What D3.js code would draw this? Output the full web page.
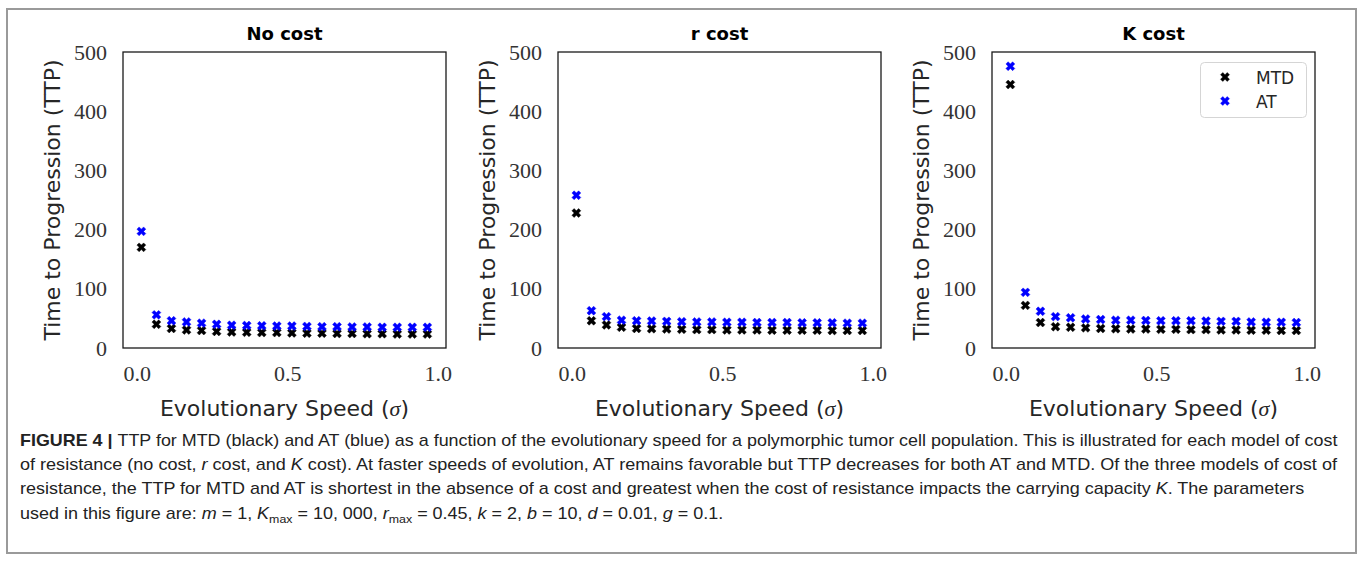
<!DOCTYPE html>
<html>
<head>
<meta charset="utf-8">
<script src="https://cdn.jsdelivr.net/npm/d3@7"></script>
<style>
  html, body { margin: 0; padding: 0; background: #fff; }
  svg { display: block; }
</style>
</head>
<body>
<div id="chart"></div>
<script>
(function() {
  'use strict';

  // evolutionary speed (sigma) at which TTP was computed
  const sigma = [0.015, 0.065, 0.115, 0.165, 0.215, 0.265, 0.315, 0.365, 0.415, 0.465,
                 0.515, 0.565, 0.615, 0.665, 0.715, 0.765, 0.815, 0.865, 0.915, 0.965];

  const panelTitles = ['No cost', 'r cost', 'K cost'];
  const seriesNames = ['MTD', 'AT'];
  const seriesColors = ['#000000', '#0000ff'];

  // No cost
  const mtdNoCost = [170, 40, 33, 30.5, 29.5, 28, 27, 26.5, 26, 26, 25.5, 25, 25, 24.5, 24.5, 24, 24, 23.5, 23.5, 23.5];
  const atNoCost  = [197, 56, 46, 44, 42, 40, 38.5, 38, 37.5, 37, 37, 36.5, 36, 36, 35.5, 35.5, 35, 35, 35, 35];
  // r cost
  const mtdRCost = [228, 46, 39, 35, 33, 32.5, 32, 31.5, 31, 31, 30.5, 30.5, 30.5, 30, 30, 30, 30, 29.5, 29.5, 29.5];
  const atRCost  = [258, 63, 53, 47, 46, 45.5, 45, 44.5, 44, 44, 43.5, 43.5, 43, 43, 43, 42.5, 42.5, 42.5, 42, 42];
  // K cost
  const mtdKCost = [445, 72, 43, 36, 35, 34, 33, 32.5, 32, 32, 31.5, 31.5, 31, 31, 30.5, 30.5, 30, 30, 29.5, 29.5];
  const atKCost  = [476, 94, 62, 53, 51, 49, 48, 47, 47, 46.5, 46, 46, 46, 45.5, 45, 45, 44, 43.5, 43.5, 43];

  const xTicks = [0, 0.5, 1.0];
  const yTicks = [0, 100, 200, 300, 400, 500];

  const captionLines = [
    [{ t: 'FIGURE 4 | ', b: true }, { t: 'TTP for MTD (black) and AT (blue) as a function of the evolutionary speed for a polymorphic tumor cell population. This is illustrated for each model of cost' }],
    [{ t: 'of resistance (no cost, ' }, { t: 'r', i: true }, { t: ' cost, and ' }, { t: 'K', i: true }, { t: ' cost). At faster speeds of evolution, AT remains favorable but TTP decreases for both AT and MTD. Of the three models of cost of' }],
    [{ t: 'resistance, the TTP for MTD and AT is shortest in the absence of a cost and greatest when the cost of resistance impacts the carrying capacity ' }, { t: 'K', i: true }, { t: '. The parameters' }],
    [{ t: 'used in this figure are: ' }, { t: 'm', i: true }, { t: ' = 1, ' }, { t: 'K', i: true }, { t: 'max', sub: true }, { t: ' = 10, 000, ' },
     { t: 'r', i: true }, { t: 'max', sub: true }, { t: ' = 0.45, ' }, { t: 'k', i: true }, { t: ' = 2, ' }, { t: 'b', i: true }, { t: ' = 10, ' },
     { t: 'd', i: true }, { t: ' = 0.01, ' }, { t: 'g', i: true }, { t: ' = 0.1.' }]
  ];

  const panels = [
    { title: panelTitles[0], series: [mtdNoCost, atNoCost] },
    { title: panelTitles[1], series: [mtdRCost, atRCost] },
    { title: panelTitles[2], series: [mtdKCost, atKCost] }
  ];

  const width = 1357;
  const height = 561;
  const boxLefts = [123, 558, 992];
  const boxTop = 52;
  const boxW = 323;
  const boxH = 296;

  const sansFont = '"DejaVu Sans", sans-serif';
  const serifFont = '"Liberation Serif", "DejaVu Serif", serif';
  const textColor = '#262626';

  const svg = d3.select('#chart')
    .append('svg')
    .attr('width', width)
    .attr('height', height);

  svg.append('rect')
    .attr('width', width)
    .attr('height', height)
    .attr('fill', '#fff');

  // outer figure frame
  svg.append('rect')
    .attr('x', 7)
    .attr('y', 9)
    .attr('width', 1349)
    .attr('height', 544)
    .attr('fill', 'none')
    .attr('stroke', '#9a9a9a')
    .attr('stroke-width', 2);

  const marker = d3.symbol().type(d3.symbolCross).size(50);

  panels.forEach((panel, pi) => {
    const left = boxLefts[pi];
    const x = d3.scaleLinear().domain([-0.046, 1.027]).range([left, left + boxW]);
    const y = d3.scaleLinear().domain([0, 500]).range([boxTop + boxH, boxTop]);

    const g = svg.append('g');

    // y axis
    const yAxis = g.append('g')
      .attr('transform', `translate(${left},0)`)
      .call(d3.axisLeft(y).tickValues(yTicks).tickSize(0).tickPadding(16).tickFormat(d3.format('d')));
    yAxis.select('.domain').remove();
    yAxis.selectAll('text')
      .attr('font-family', serifFont)
      .attr('font-size', 22)
      .attr('fill', '#333');

    // x axis
    const xAxis = g.append('g')
      .attr('transform', `translate(0,${boxTop + boxH})`)
      .call(d3.axisBottom(x).tickValues(xTicks).tickSize(0).tickPadding(17).tickFormat(d3.format('.1f')));
    xAxis.select('.domain').remove();
    xAxis.selectAll('text')
      .attr('font-family', serifFont)
      .attr('font-size', 22)
      .attr('fill', '#333');

    // plot frame
    g.append('rect')
      .attr('x', left)
      .attr('y', boxTop)
      .attr('width', boxW)
      .attr('height', boxH)
      .attr('fill', 'none')
      .attr('stroke', '#1a1a1a')
      .attr('stroke-width', 1.3);

    // title
    g.append('text')
      .attr('x', left + boxW / 2)
      .attr('y', 40)
      .attr('text-anchor', 'middle')
      .attr('font-family', sansFont)
      .attr('font-weight', 'bold')
      .attr('font-size', 18)
      .attr('fill', '#000')
      .text(panel.title);

    // y label
    g.append('text')
      .attr('transform', `translate(${left - 70},${boxTop + boxH / 2}) rotate(-90)`)
      .attr('dy', '0.33em')
      .attr('text-anchor', 'middle')
      .attr('font-family', sansFont)
      .attr('font-size', 22)
      .attr('fill', textColor)
      .text('Time to Progression (TTP)');

    // x label
    const xl = g.append('text')
      .attr('x', left + boxW / 2)
      .attr('y', 416)
      .attr('text-anchor', 'middle')
      .attr('font-family', sansFont)
      .attr('font-size', 22)
      .attr('fill', textColor);
    xl.append('tspan').text('Evolutionary Speed (');
    xl.append('tspan').attr('font-family', serifFont).attr('font-style', 'italic').text('σ');
    xl.append('tspan').text(')');

    // points
    panel.series.forEach((vals, si) => {
      g.append('g')
        .selectAll('path')
        .data(vals.map((v, i) => ({ s: sigma[i], v })))
        .enter()
        .append('path')
        .attr('d', marker)
        .attr('transform', d => `translate(${x(d.s)},${y(d.v)}) rotate(45)`)
        .attr('fill', seriesColors[si])
        .attr('stroke', seriesColors[si])
        .attr('stroke-width', 0.4);
    });

    // legend on last panel
    if (pi === 2) {
      const lg = g.append('g');
      lg.append('rect')
        .attr('x', 1200.5)
        .attr('y', 62.5)
        .attr('width', 106)
        .attr('height', 55)
        .attr('rx', 4)
        .attr('fill', '#fff')
        .attr('fill-opacity', 0.8)
        .attr('stroke', '#d5d5d5')
        .attr('stroke-width', 1);
      seriesNames.forEach((name, si) => {
        const ly = 77 + si * 24;
        lg.append('path')
          .attr('d', marker)
          .attr('transform', `translate(1225,${ly}) rotate(45)`)
          .attr('fill', seriesColors[si])
          .attr('stroke', seriesColors[si])
          .attr('stroke-width', 0.4);
        lg.append('text')
          .attr('x', 1256)
          .attr('y', ly + 6.5)
          .attr('font-family', sansFont)
          .attr('font-size', 17)
          .attr('fill', textColor)
          .text(name);
      });
    }
  });

  // caption
  const capFont = '"Liberation Sans", Arial, sans-serif';
  const capBaselines = [446, 470, 494, 519];
  const capNodes = captionLines.map((parts, li) => {
    const t = svg.append('text')
      .attr('font-family', capFont)
      .attr('font-size', 16)
      .attr('fill', '#222')
      .attr('transform', `translate(20,${capBaselines[li]})`);
    parts.forEach(p => {
      const ts = t.append('tspan').text(p.t);
      if (p.b) ts.attr('font-weight', 'bold');
      if (p.i) ts.attr('font-style', 'italic');
      if (p.sub) {
        ts.attr('font-size', 11).attr('dy', 4);
        // restore baseline on the next span
        p.restore = true;
      }
    });
    // fix baselines after subscripts
    const spans = t.selectAll('tspan').nodes();
    parts.forEach((p, k) => {
      if (p.sub && spans[k + 1]) d3.select(spans[k + 1]).attr('dy', -4);
    });
    return t;
  });

  // condense caption horizontally like the journal's narrow face
  const fullW = 1318;
  const w0 = capNodes[0].node().getComputedTextLength();
  const w1 = capNodes[1].node().getComputedTextLength();
  const sx0 = fullW / w0;
  const sx1 = fullW / w1;
  const sxAvg = (sx0 + sx1) / 2;
  capNodes.forEach((t, li) => {
    const sx = li === 0 ? sx0 : li === 1 ? sx1 : sxAvg;
    t.attr('transform', `translate(20,${capBaselines[li]}) scale(${sx},1)`);
  });
})();
</script>
</body>
</html>
